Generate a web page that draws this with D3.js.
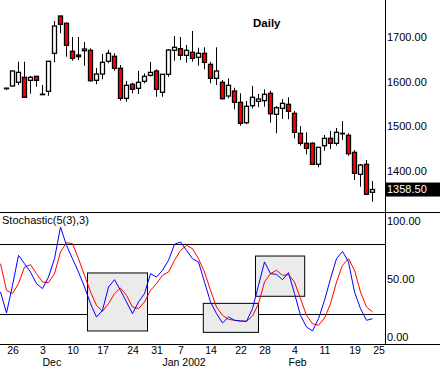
<!DOCTYPE html>
<html><head><meta charset="utf-8">
<script src="https://cdn.jsdelivr.net/npm/d3@7"></script>
<style>
html,body{margin:0;padding:0;background:#fff;}
svg{display:block;font-family:"Liberation Sans",Arial,sans-serif;}
</style></head>
<body>
<svg id="chart" width="440" height="366"></svg>
<script>
// ---- data ----
const opens  = [1585,1590.3,1598.6,1609.7,1603.0,1612.0,1571.5,1578.4,1663.5,1747.0,1730.6,1668.0,1659.7,1669.3,1670.2,1603.0,1617.1,1645.6,1656.8,1629.9,1562.7,1594.1,1585.1,1600.8,1614.2,1623.9,1576.2,1616.5,1670.2,1673.8,1659.0,1665.7,1654.5,1663.5,1638.8,1607.5,1598.6,1567.9,1579.1,1553.8,1508.1,1546.2,1556.0,1557.4,1573.9,1526.9,1540.3,1549.3,1529.1,1484.4,1462.0,1462.0,1415.0,1456.6,1473.2,1462.0,1484.4,1479.9,1441.8,1392.6,1415.0,1352.3];
const highs  = [1586,1625,1644.7,1644.7,1612.7,1612.5,1592.5,1646,1735.8,1747.5,1732.9,1700.0,1700.0,1688.8,1674.7,1630.6,1661.9,1670.9,1663.5,1637.3,1601.5,1597.7,1623.9,1618.7,1644.0,1627.7,1617,1673.1,1702.2,1700.0,1682.1,1713.4,1676.0,1676.9,1644.7,1676.9,1603.7,1607.5,1586.5,1573.9,1556.7,1590.3,1572.4,1582.9,1579.7,1545.5,1561.2,1565.0,1534.3,1500.7,1486.6,1464.3,1453.5,1480.6,1489.5,1496.2,1511.9,1484.4,1447.0,1415.6,1424.6,1377.6];
const lows   = [1581,1589,1592.5,1565.0,1573.0,1588.7,1571,1568.5,1643.3,1708.2,1655.9,1646.9,1648.5,1635.7,1599.9,1594.1,1605.3,1641.1,1624.5,1557.4,1555.1,1573.9,1572.4,1596.3,1611.1,1566.3,1566.3,1611.1,1646.9,1648.5,1642.4,1644.7,1635.7,1627.7,1596.3,1592.5,1560.5,1562.7,1538.1,1501.4,1504.5,1540.3,1542.6,1543.9,1508.1,1484.4,1516.4,1515.7,1473.2,1456.6,1437.4,1413.4,1408.3,1445.4,1449.2,1456.6,1469.4,1434.2,1379.8,1364.8,1346.3,1331.2];
const closes = [1585.5,1623.9,1620.9,1565.0,1609.7,1603.0,1572,1645.6,1724.6,1728.4,1681.4,1652.3,1655.9,1673.1,1602.1,1617.1,1643.3,1663.5,1629.9,1562.7,1591.8,1582.9,1598.6,1612.0,1620.9,1582.9,1616.5,1670.9,1676.9,1659.0,1670.2,1652.3,1663.5,1643.3,1607.5,1623.9,1561.8,1591.8,1553.8,1506.8,1544.8,1565.0,1561.2,1571.7,1528.2,1541.7,1551.5,1533.6,1486.6,1462.0,1450.8,1415.0,1453.0,1473.2,1462.0,1486.6,1484.4,1438.7,1394.8,1413.4,1347.8,1358.5];
// stochastic values, first entry belongs to the day before the first candle
const stochK = [38.8,20.7,44.5,70.4,63.2,56.0,46.0,41.7,51.7,67.5,94.8,79.0,67.5,56.0,43.1,28.7,17.2,23.0,43.1,49.4,40.2,30.2,20.1,30.2,37.4,54.6,51.7,57.5,66.1,79.9,81.9,74.7,67.5,64.7,47.4,30.2,20.1,12.1,17.2,14.4,13.8,13.5,24.4,44.5,64.7,54.6,54.0,49.4,55.5,37.4,18.7,8.6,5.2,15.8,31.6,50.3,67.5,73.8,64.7,38.8,24.4,14.4,15.8];
const stochD = [63.2,40.2,37.4,46.0,60.3,62.4,54.6,47.4,46.8,54.6,73.3,81.3,80.5,67.5,53.2,38.8,27.3,22.1,28.7,37.4,42.2,35.9,25.9,24.4,30.2,40.2,46.0,53.2,56.0,66.1,74.7,79.0,76.1,67.5,56.0,40.2,25.9,18.7,15.2,14.4,13.8,13.5,18.1,28.7,47.4,54.6,57.5,53.2,53.7,47.4,33.0,18.7,11.5,10.1,16.4,28.7,47.4,61.8,67.5,57.5,38.8,25.9,21.6];
const priceTicks = [1400,1500,1600,1700];
const stochTicks = [0,50,100];
const stochLevels = [20,80];
const dayTickIdx = [1,6,11,16,21,25,29,34,39,43,48,53,58,62];
const dayTickLabels = ["26","3","10","17","24","31","7","14","22","28","4","11","19","25"];
const monthIdx = [6,26,47];
const monthLabels = ["Dec","Jan 2002","Feb"];
// highlight boxes: [startIdx, endIdx, lowValue, highValue]
const boxStart = [13.5,32.8,41.5];
const boxEnd   = [23.5,42.0,49.7];
const boxLow   = [5.2,4.0,35.1];
const boxHigh  = [55.2,29.0,69.8];
const lastPrice = 1358.5;

// ---- layout ----
const W = 440, H = 366, axisX = 385;
const svg = d3.select("#chart");
const x = d3.scaleLinear().domain([0, 62]).range([6.5, 378.5]);
const yP = d3.scaleLinear().domain([1400, 1700]).range([171, 37]);
const yS = d3.scaleLinear().domain([0, 100]).range([337, 221]);

// panel frame lines
svg.append("line").attr("x1",0).attr("x2",W).attr("y1",212.5).attr("y2",212.5).attr("stroke","#000");
svg.append("line").attr("x1",0).attr("x2",W).attr("y1",344.5).attr("y2",344.5).attr("stroke","#000");
svg.append("line").attr("x1",axisX+0.5).attr("x2",axisX+0.5).attr("y1",0).attr("y2",345).attr("stroke","#000");

// candles
const candles = svg.append("g");
const idx = d3.range(opens.length);
candles.selectAll("line.wick").data(idx).join("line")
  .attr("x1", i => x(i)).attr("x2", i => x(i))
  .attr("y1", i => yP(highs[i])).attr("y2", i => yP(lows[i]))
  .attr("stroke","#000").attr("stroke-width",1);
candles.selectAll("rect").data(idx).join("rect")
  .attr("x", i => x(i) - 2).attr("width", 4)
  .attr("y", i => yP(Math.max(opens[i], closes[i])))
  .attr("height", i => Math.max(0.5, Math.abs(yP(opens[i]) - yP(closes[i]))))
  .attr("fill", i => closes[i] >= opens[i] ? "#fff" : "#ff0000")
  .attr("stroke","#000").attr("stroke-width",1.3);

svg.append("text").attr("x",253).attr("y",27).attr("font-size",11.5).attr("font-weight","bold").text("Daily");

// price axis
const pAxis = svg.append("g").attr("transform",`translate(${axisX},0)`)
  .call(d3.axisRight(yP).tickValues(priceTicks).tickSize(0).tickPadding(2).tickFormat(d3.format(".2f")));
pAxis.select(".domain").remove();
pAxis.selectAll("text").attr("font-size",11).attr("font-family","Liberation Sans, Arial, sans-serif").attr("fill","#000");

// last price tag
const lp = svg.append("g");
lp.append("rect").attr("x",axisX+1).attr("y",yP(lastPrice)-7).attr("width",W-axisX-1).attr("height",14).attr("fill","#000");
lp.append("text").attr("x",axisX+2).attr("y",yP(lastPrice)).attr("dy","0.36em").attr("font-size",11).attr("fill","#fff").text(d3.format(".2f")(lastPrice));

// stochastic panel
svg.append("text").attr("x",2).attr("y",224).attr("font-size",11).text("Stochastic(5(3),3)");
const sg = svg.append("g");
sg.selectAll("line.lvl").data(stochLevels).join("line")
  .attr("x1",0).attr("x2",axisX).attr("y1",d => Math.round(yS(d))+0.5).attr("y2",d => Math.round(yS(d))+0.5)
  .attr("stroke","#000");
const bi = d3.range(boxStart.length);
sg.selectAll("rect.box").data(bi).join("rect")
  .attr("x", i => x(boxStart[i])).attr("width", i => x(boxEnd[i]) - x(boxStart[i]))
  .attr("y", i => yS(boxHigh[i])).attr("height", i => yS(boxLow[i]) - yS(boxHigh[i]))
  .attr("fill","#ebebeb").attr("stroke","#000").attr("stroke-width",1);

svg.append("clipPath").attr("id","sclip").append("rect").attr("x",0).attr("y",213).attr("width",axisX).attr("height",131);
const line = d3.line().x((d,i) => x(i - 1)).y(d => yS(d));
const lines = svg.append("g").attr("clip-path","url(#sclip)");
lines.append("path").attr("d", line(stochD)).attr("fill","none").attr("stroke","#ff0000").attr("stroke-width",1);
lines.append("path").attr("d", line(stochK)).attr("fill","none").attr("stroke","#0000ff").attr("stroke-width",1);

const sAxis = svg.append("g").attr("transform",`translate(${axisX},0)`)
  .call(d3.axisRight(yS).tickValues(stochTicks).tickSize(0).tickPadding(2).tickFormat(d3.format(".2f")));
sAxis.select(".domain").remove();
sAxis.selectAll("text").attr("font-size",11).attr("font-family","Liberation Sans, Arial, sans-serif").attr("fill","#000");

// date axis
const xAxis = svg.append("g").attr("transform","translate(0,345)")
  .call(d3.axisBottom(x).tickValues(dayTickIdx).tickSize(0).tickPadding(2).tickFormat((d,i) => dayTickLabels[i]));
xAxis.select(".domain").remove();
xAxis.selectAll("text").attr("font-size",10.5).attr("font-family","Liberation Sans, Arial, sans-serif").attr("fill","#000");
svg.append("g").selectAll("text").data(monthIdx).join("text")
  .attr("x", d => x(d)).attr("y",365.5).attr("font-size",10.5).text((d,i) => monthLabels[i]);
</script>
</body></html>
